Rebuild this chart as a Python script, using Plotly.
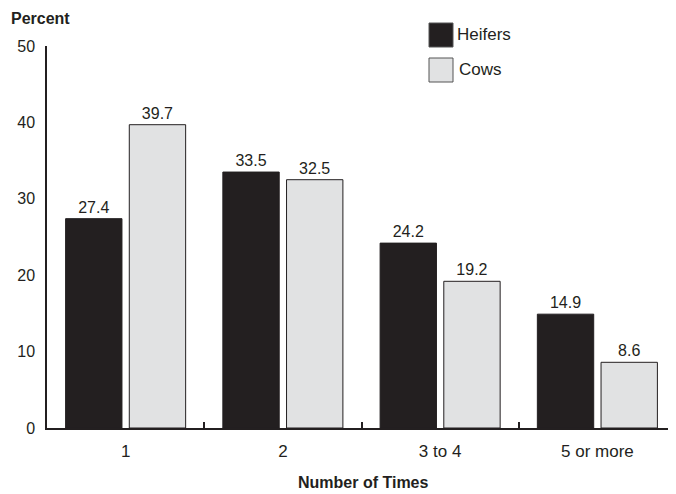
import plotly.graph_objects as go

categories = ["1", "2", "3 to 4", "5 or more"]
heifers = [27.4, 33.5, 24.2, 14.9]
cows = [39.7, 32.5, 19.2, 8.6]
series_names = ["Heifers", "Cows"]
y_ticks = [0, 10, 20, 30, 40, 50]

# window size and page offset (default body margin)
WIN_W, WIN_H, OFF = 676, 494, 8
W, H = WIN_W - OFF, WIN_H - OFF
# plot area in window pixels
PL, PR, PT, PB = 47, 676, 46, 428
ML, MR, MT, MB = PL - OFF, WIN_W - PR, PT - OFF, WIN_H - PB
PW, PH = PR - PL, PB - PT

def px(x):
    return (x - PL) / PW

def py(y):
    return (PB - y) / PH

HEIF_COL = "#231f20"
COW_COL = "#e1e2e3"
EDGE = "#231f20"
FONT = "Liberation Sans, Arial, sans-serif"
FS = 16

fig = go.Figure()
for name, vals, col in [(series_names[0], heifers, HEIF_COL), (series_names[1], cows, COW_COL)]:
    fig.add_trace(go.Bar(
        x=categories, y=vals, name=name,
        marker=dict(color=col, line=dict(color=EDGE, width=1)),
        text=[f"{v:.1f}" for v in vals], textposition="outside",
        textfont=dict(family=FONT, size=FS, color="#231f20"),
        cliponaxis=False, showlegend=False,
    ))

shapes = []
annotations = []
# legend
for i, (name, col) in enumerate([(series_names[0], HEIF_COL), (series_names[1], COW_COL)]):
    top = 23 + i * 35
    shapes.append(dict(type="rect", xref="paper", yref="paper",
                       x0=px(429), x1=px(453), y0=py(top + 24), y1=py(top),
                       fillcolor=col, line=dict(color="#555555", width=1)))
    annotations.append(dict(text=name, xref="paper", yref="paper",
                            x=px(455 if i == 0 else 457), y=py(top + 12), xanchor="left", yanchor="middle",
                            showarrow=False, font=dict(family=FONT, size=17, color="#231f20")))

annotations.append(dict(text="<b>Percent</b>", xref="paper", yref="paper",
                        x=px(9), y=py(18), xanchor="left", yanchor="middle",
                        showarrow=False, font=dict(family=FONT, size=FS, color="#231f20")))
annotations.append(dict(text="<b>Number of Times</b>", xref="paper", yref="paper",
                        x=px(364), y=py(482), xanchor="center", yanchor="middle",
                        showarrow=False, font=dict(family=FONT, size=FS, color="#231f20")))

fig.update_layout(
    width=W, height=H,
    margin=dict(l=ML, r=MR, t=MT, b=MB, pad=0),
    paper_bgcolor="white", plot_bgcolor="white",
    barmode="group", bargap=0.19, bargroupgap=0.115,
    font=dict(family=FONT, size=FS, color="#231f20"),
    shapes=shapes, annotations=annotations,
    xaxis=dict(
        type="category", range=[-0.5, 3.5],
        showline=True, linecolor="#231f20", linewidth=1.5,
        ticks="inside", tickson="boundaries", ticklen=6, tickwidth=1.5, tickcolor="#231f20",
        ticklabelstandoff=7,
        tickfont=dict(family=FONT, size=17, color="#231f20"),
        showgrid=False, zeroline=False,
    ),
    yaxis=dict(
        range=[0, 50], tickvals=y_ticks,
        showline=True, linecolor="#231f20", linewidth=1.5,
        ticks="", ticklabelstandoff=7,
        tickfont=dict(family=FONT, size=FS, color="#231f20"),
        showgrid=False, zeroline=False,
    ),
)

fig.write_html("out.html")
